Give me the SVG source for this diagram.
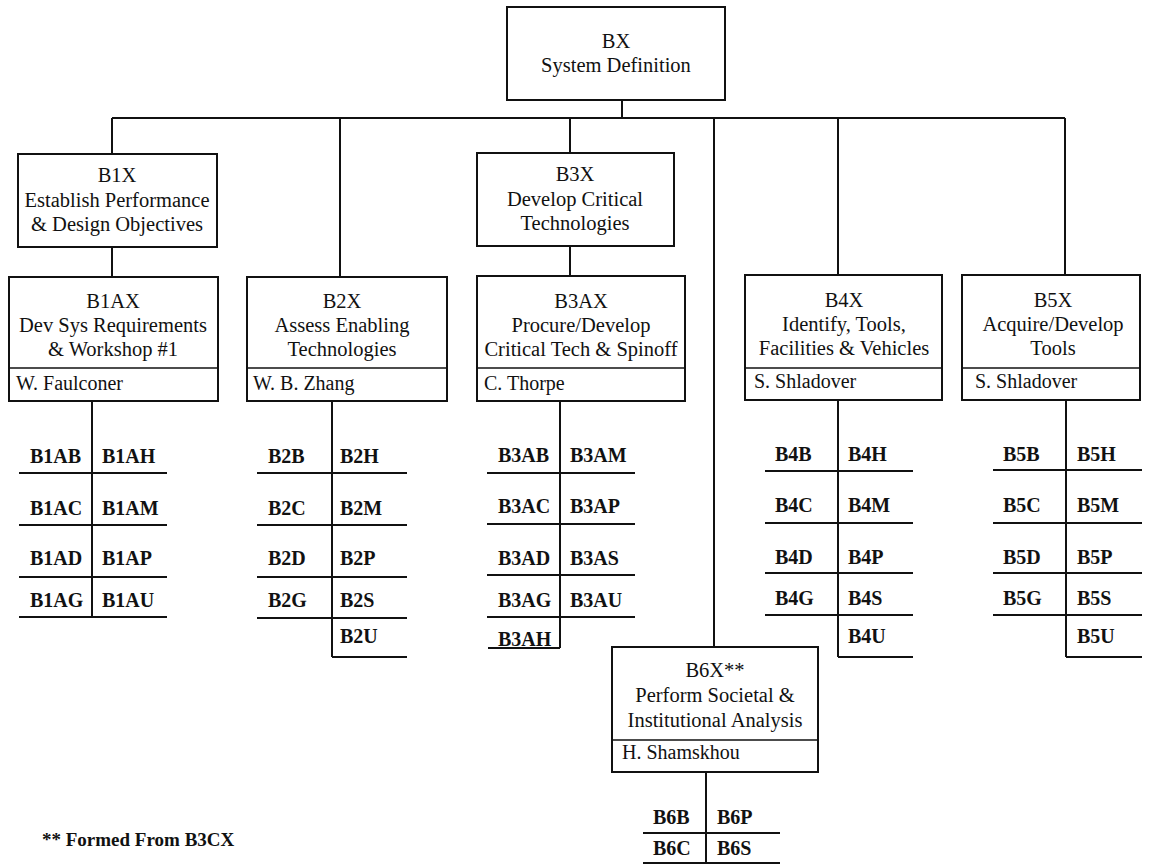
<svg xmlns="http://www.w3.org/2000/svg" width="1150" height="865" viewBox="0 0 1150 865">
  <style>
    .box { fill: #fff; stroke: #111; stroke-width: 2; }
    .div { stroke: #111; stroke-width: 1.6; }
    .wire { fill: none; stroke: #111; stroke-width: 2; }
    .rule { fill: none; stroke: #111; stroke-width: 2; }
    text { font-family: "Liberation Serif", "Times New Roman", serif; fill: #111; }
    .t { font-size: 20.5px; text-anchor: middle; }
    .nm { font-size: 20px; }
    .code { font-size: 20px; font-weight: bold; }
    .note { font-size: 19px; font-weight: bold; }
  </style>

  <rect width="1150" height="865" fill="#fff"/>

  <!-- tree connectors -->
  <g id="connectors" class="wire">
    <path d="M622 100 V118"/>
    <path d="M112 118 H1065"/>
    <path d="M112 118 V154"/>
    <path d="M340 118 V277"/>
    <path d="M570 118 V153"/>
    <path d="M714 118 V647"/>
    <path d="M838 118 V275"/>
    <path d="M1065 118 V275"/>
    <path d="M112 247 V277"/>
    <path d="M570 246 V276"/>
  </g>

  <!-- top node -->
  <g id="BX">
    <rect class="box" x="507" y="7" width="218" height="93"/>
    <text class="t" x="616" y="48">BX</text>
    <text class="t" x="616" y="72">System Definition</text>
  </g>

  <g id="B1X">
    <rect class="box" x="18" y="154" width="199" height="93"/>
    <text class="t" x="117" y="182">B1X</text>
    <text class="t" x="117" y="207">Establish Performance</text>
    <text class="t" x="117" y="231">&amp; Design Objectives</text>
  </g>

  <g id="B3X">
    <rect class="box" x="477" y="153" width="197" height="93"/>
    <text class="t" x="575" y="181">B3X</text>
    <text class="t" x="575" y="206">Develop Critical</text>
    <text class="t" x="575" y="230">Technologies</text>
  </g>

  <!-- work packages with lead -->
  <g id="B1AX">
    <rect class="box" x="9" y="277" width="209" height="124"/>
    <line class="div" x1="9" y1="368" x2="218" y2="368"/>
    <text class="t" x="113" y="308">B1AX</text>
    <text class="t" x="113" y="332">Dev Sys Requirements</text>
    <text class="t" x="113" y="356">&amp; Workshop #1</text>
    <text class="nm" x="16" y="390">W. Faulconer</text>
  </g>

  <g id="B2X">
    <rect class="box" x="247" y="277" width="200" height="124"/>
    <line class="div" x1="247" y1="368" x2="447" y2="368"/>
    <text class="t" x="342" y="308">B2X</text>
    <text class="t" x="342" y="332">Assess Enabling</text>
    <text class="t" x="342" y="356">Technologies</text>
    <text class="nm" x="253" y="390">W. B. Zhang</text>
  </g>

  <g id="B3AX">
    <rect class="box" x="477" y="276" width="208" height="125"/>
    <line class="div" x1="477" y1="368" x2="685" y2="368"/>
    <text class="t" x="581" y="308">B3AX</text>
    <text class="t" x="581" y="332">Procure/Develop</text>
    <text class="t" x="581" y="356">Critical Tech &amp; Spinoff</text>
    <text class="nm" x="484" y="390">C. Thorpe</text>
  </g>

  <g id="B4X">
    <rect class="box" x="745" y="275" width="197" height="125"/>
    <line class="div" x1="745" y1="368" x2="942" y2="368"/>
    <text class="t" x="844" y="307">B4X</text>
    <text class="t" x="844" y="331">Identify, Tools,</text>
    <text class="t" x="844" y="355">Facilities &amp; Vehicles</text>
    <text class="nm" x="754" y="388">S. Shladover</text>
  </g>

  <g id="B5X">
    <rect class="box" x="962" y="275" width="178" height="125"/>
    <line class="div" x1="962" y1="368" x2="1140" y2="368"/>
    <text class="t" x="1053" y="307">B5X</text>
    <text class="t" x="1053" y="331">Acquire/Develop</text>
    <text class="t" x="1053" y="355">Tools</text>
    <text class="nm" x="975" y="388">S. Shladover</text>
  </g>

  <g id="B6X">
    <rect class="box" x="612" y="647" width="206" height="125"/>
    <line class="div" x1="612" y1="740" x2="818" y2="740"/>
    <text class="t" x="715" y="677">B6X**</text>
    <text class="t" x="715" y="702">Perform Societal &amp;</text>
    <text class="t" x="715" y="727">Institutional Analysis</text>
    <text class="nm" x="622" y="759">H. Shamskhou</text>
  </g>

  <!-- task lists under each work package -->
  <g id="B1-tasks">
    <path class="rule" d="M92 401 V617 M19 473 H167 M19 525 H167 M19 577 H167 M19 617 H167"/>
    <text class="code" x="30" y="463">B1AB</text><text class="code" x="102" y="463">B1AH</text>
    <text class="code" x="30" y="515">B1AC</text><text class="code" x="102" y="515">B1AM</text>
    <text class="code" x="30" y="565">B1AD</text><text class="code" x="102" y="565">B1AP</text>
    <text class="code" x="30" y="607">B1AG</text><text class="code" x="102" y="607">B1AU</text>
  </g>

  <g id="B2-tasks">
    <path class="rule" d="M332 401 V657 M257 473 H407 M257 525 H407 M257 577 H407 M257 618 H407 M332 657 H407"/>
    <text class="code" x="268" y="463">B2B</text><text class="code" x="340" y="463">B2H</text>
    <text class="code" x="268" y="515">B2C</text><text class="code" x="340" y="515">B2M</text>
    <text class="code" x="268" y="565">B2D</text><text class="code" x="340" y="565">B2P</text>
    <text class="code" x="268" y="607">B2G</text><text class="code" x="340" y="607">B2S</text>
    <text class="code" x="340" y="643">B2U</text>
  </g>

  <g id="B3-tasks">
    <path class="rule" d="M560 401 V648 M487 473 H635 M487 524 H635 M487 575 H635 M487 617 H635 M488 648 H560"/>
    <text class="code" x="498" y="462">B3AB</text><text class="code" x="570" y="462">B3AM</text>
    <text class="code" x="498" y="513">B3AC</text><text class="code" x="570" y="513">B3AP</text>
    <text class="code" x="498" y="565">B3AD</text><text class="code" x="570" y="565">B3AS</text>
    <text class="code" x="498" y="607">B3AG</text><text class="code" x="570" y="607">B3AU</text>
    <text class="code" x="498" y="646">B3AH</text>
  </g>

  <g id="B4-tasks">
    <path class="rule" d="M838 400 V657 M765 471 H913 M765 523 H913 M765 573 H913 M765 615 H913 M838 657 H913"/>
    <text class="code" x="775" y="461">B4B</text><text class="code" x="848" y="461">B4H</text>
    <text class="code" x="775" y="512">B4C</text><text class="code" x="848" y="512">B4M</text>
    <text class="code" x="775" y="564">B4D</text><text class="code" x="848" y="564">B4P</text>
    <text class="code" x="775" y="605">B4G</text><text class="code" x="848" y="605">B4S</text>
    <text class="code" x="848" y="643">B4U</text>
  </g>

  <g id="B5-tasks">
    <path class="rule" d="M1066 400 V657 M993 470 H1142 M993 523 H1142 M993 573 H1142 M993 615 H1142 M1066 657 H1142"/>
    <text class="code" x="1003" y="461">B5B</text><text class="code" x="1077" y="461">B5H</text>
    <text class="code" x="1003" y="512">B5C</text><text class="code" x="1077" y="512">B5M</text>
    <text class="code" x="1003" y="564">B5D</text><text class="code" x="1077" y="564">B5P</text>
    <text class="code" x="1003" y="605">B5G</text><text class="code" x="1077" y="605">B5S</text>
    <text class="code" x="1077" y="643">B5U</text>
  </g>

  <g id="B6-tasks">
    <path class="rule" d="M706 772 V863 M643 833 H780 M643 863 H780"/>
    <text class="code" x="653" y="824">B6B</text><text class="code" x="717" y="824">B6P</text>
    <text class="code" x="653" y="855">B6C</text><text class="code" x="717" y="855">B6S</text>
  </g>

  <text class="note" x="42" y="846">** Formed From B3CX</text>
</svg>
